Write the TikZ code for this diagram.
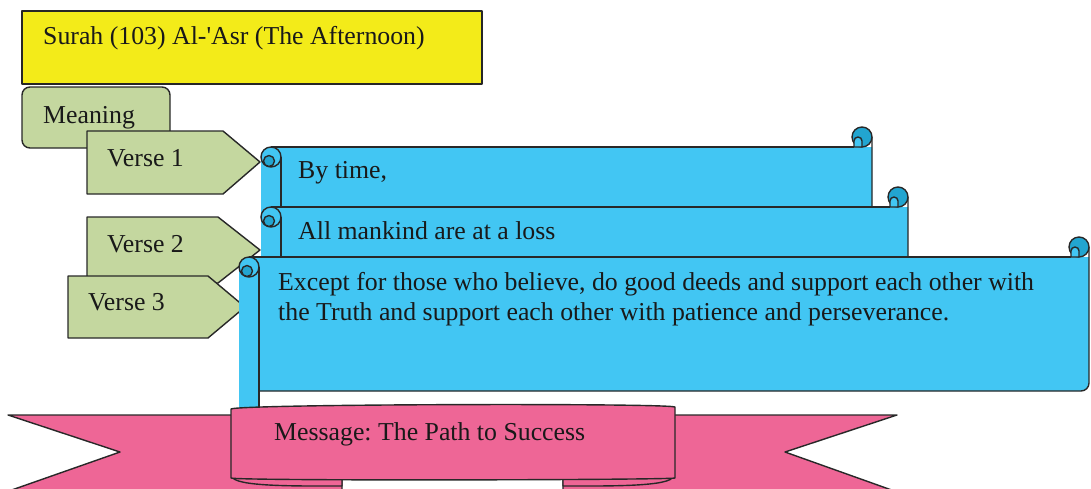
\documentclass[tikz,border=0pt]{standalone}
\usepackage{fontspec}
\setmainfont{Liberation Serif}
\frenchspacing
\definecolor{titlefill}{RGB}{243,235,25}
\definecolor{leaf}{RGB}{196,215,159}
\definecolor{sky}{RGB}{66,198,243}
\definecolor{curl}{RGB}{34,165,208}
\definecolor{rose}{RGB}{238,102,150}
\definecolor{ink}{RGB}{40,40,40}
\definecolor{txt}{RGB}{25,25,25}

% horizontal scroll: left, top, right, bottom of the body
\newcommand\hscroll[4]{%
  \fill[sky] (#1,{#2+10}) rectangle ({#1+20},{#4+18});
  \fill[sky] ({#1+10},#2) -- (#3,#2) -- (#3,{#4-8})
     arc[start angle=0,end angle=90,radius=8] -- ({#1+10},#4) -- cycle;
  \draw[outl] ({#1+10},#2) -- ({#3-18},#2);
  \draw[outl] (#3,{#2-10}) -- (#3,{#4-8})
     arc[start angle=0,end angle=90,radius=8] -- ({#1+20},#4);
  \draw[outl] ({#1+20},{#2+10}) -- ({#1+20},{#4+18});
  % top-left curl
  \filldraw[outl,fill=sky] ({#1+10},{#2+10}) circle (10);
  \filldraw[outl,fill=curl] ({#1+8},{#2+14}) circle (5.5);
  % top-right curl
  \filldraw[outl,fill=curl] ({#3-10},{#2-10}) circle (10);
  \filldraw[outl,fill=sky] ({#3-18},#2) -- ({#3-18},{#2-6})
     arc[start angle=180,end angle=360,radius=4] -- ({#3-10},#2) -- cycle;
}

\begin{document}
\begin{tikzpicture}[x=1pt,y=-1pt,line join=round,
  outl/.style={draw=ink,line width=1.4pt},
  lbl/.style={anchor=base west,inner sep=0pt,text=txt,
              font=\fontsize{25.8}{30}\selectfont},
  verse/.style={outl,fill=leaf}]
\useasboundingbox (0,0) rectangle (1091,488);

% title bar
\filldraw[draw=black!85,line width=2.2pt,fill=titlefill] (22,11) rectangle (482,84);
\node[lbl] (title) at (43,44) {Surah (103) Al-\textquotesingle Asr (The Afternoon)};

% meaning tab and verse arrows
\filldraw[verse,rounded corners=8] (22,87) rectangle (170,148);
\node[lbl] (meaning) at (43,123) {Meaning};

\filldraw[verse] (87,131) -- (223,131) -- (260,162) -- (223,194) -- (87,194) -- cycle;
\node[lbl] (v1) at (107,166) {Verse 1};
\filldraw[verse] (87,217) -- (218,217) -- (260,250) -- (218,283) -- (87,283) -- cycle;
\node[lbl] (v2) at (107,252) {Verse 2};
\filldraw[verse] (68,276) -- (208,276) -- (245,307) -- (208,338) -- (68,338) -- cycle;
\node[lbl] (v3) at (88,310) {Verse 3};

% verse scrolls
\hscroll{261}{147}{872}{240}
\node[lbl] (t1) at (298,178) {By time,};
\hscroll{261}{207}{908}{300}
\node[lbl] (t2) at (298,239) {All mankind are at a loss};
\hscroll{239}{257}{1089}{391}
\node[lbl] (t3) at (278,290) {Except for those who believe, do good deeds and support each other with};
\node[lbl] (t4) at (278,320) {the Truth and support each other with patience and perseverance.};

% message ribbon: tails
\filldraw[outl,fill=rose] (342,500) -- (342,415) -- (8,415) -- (120,452) -- (6,492) -- (6,500) -- cycle;
\filldraw[outl,fill=rose] (563,500) -- (563,415) -- (897,415) -- (785,452) -- (900,493) -- (900,500) -- cycle;
% folds under the front panel
\filldraw[outl,fill=rose] (232,476) .. controls (232,487) and (300,486) .. (342,486) -- (342,476) -- cycle;
\filldraw[outl,fill=rose] (673,476) .. controls (673,487) and (605,486) .. (563,486) -- (563,476) -- cycle;
% front panel
\filldraw[outl,fill=rose] (231,409) .. controls (240,404) and (665,403) .. (675,407)
   -- (675,478) .. controls (665,480) and (240,481) .. (231,478) -- cycle;
\node[lbl] (msg) at (274,440) {Message: The Path to Success};
\end{tikzpicture}
\end{document}
